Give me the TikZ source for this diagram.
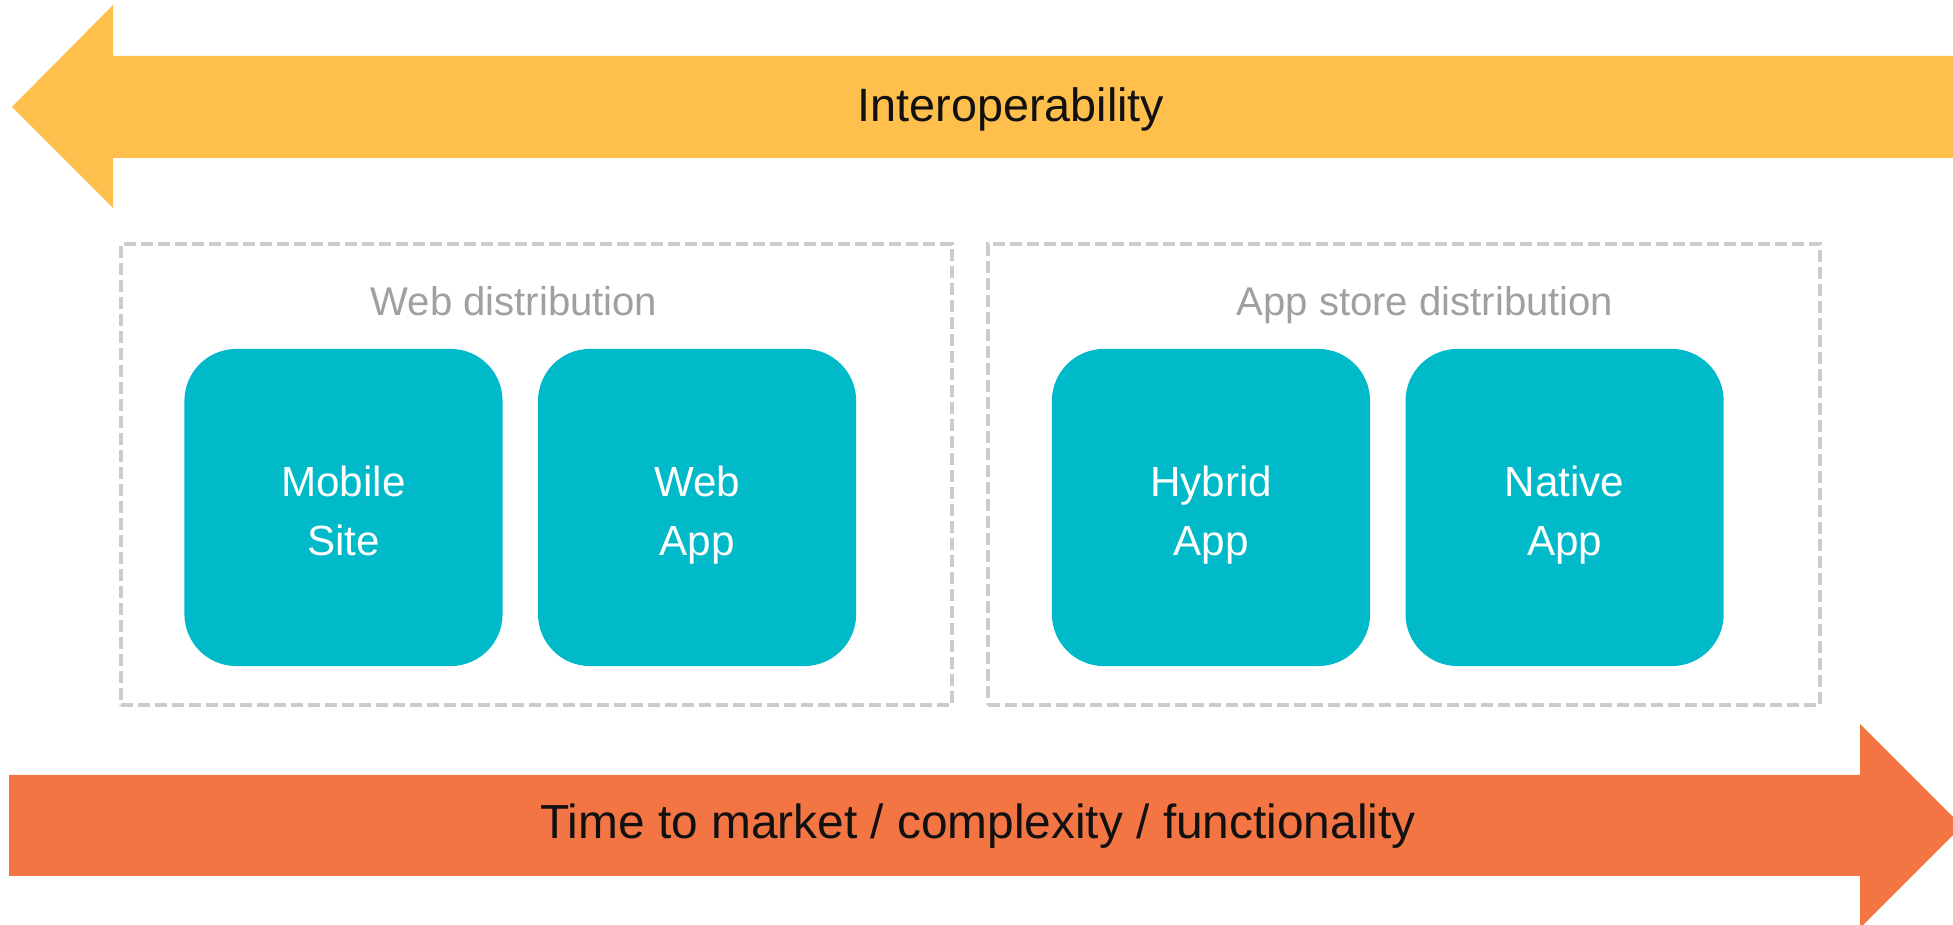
\documentclass[tikz,border=0pt]{standalone}
\usepackage{fontspec}
\setmainfont{Liberation Sans}
\usetikzlibrary{positioning}
\definecolor{clrinterop}{HTML}{FEBF4D}
\definecolor{clrmarket}{HTML}{F47544}
\definecolor{clrapp}{HTML}{00B9C9}
\definecolor{clrgroup_frame}{HTML}{CCCCCC}
\definecolor{clrgroup_text}{HTML}{A0A0A0}
\definecolor{clrtext}{HTML}{111111}

\begin{document}
\begin{tikzpicture}[
    x=0.01cm, y=-0.01cm,
    appbox/.style={fill=clrapp, rounded corners=0.52cm, minimum width=3.18cm,
                   minimum height=3.17cm, inner sep=0, text=white, align=center,
                   text height=30pt, text depth=2.5pt,
                   font=\fontsize{12}{16.8}\selectfont},
    group/.style={draw=clrgroup_frame, dash pattern=on 0.12cm off 0.05cm,
                  line width=1.25pt, minimum width=8.31cm, minimum height=4.61cm, inner sep=0},
    grouplabel/.style={anchor=base, text=clrgroup_text, font=\fontsize{11.4}{13}\selectfont},
    banner/.style={anchor=base, text=clrtext, font=\fontsize{13.3}{16}\selectfont},
]
\clip (0,0) rectangle (1953,925);
% arrows
\fill[clrinterop] (12,107) -- (113,5) -- (113,56) -- (1960,56) -- (1960,158) -- (113,158) -- (113,208) -- cycle;
\fill[clrmarket] (9,775) -- (1860,775) -- (1860,724) -- (1962,826) -- (1860,928) -- (1860,876) -- (9,876) -- cycle;
\node[banner] (interop) at (1011,122) {Interoperability};
\node[banner, font=\fontsize{13.6}{16}\selectfont] (market) at (978,839) {Time to market / complexity / functionality};
% groups
\node[group] (g_0) at (536.5,474.5) {};
\node[group, minimum width=8.32cm] (g_1) at (1404,474.5) {};
\node[grouplabel] (g_0_label) at (514,316) {Web distribution};
\node[grouplabel] (g_1_label) at (1425,316) {App store distribution};
% apps
\node[appbox] (n_1) at (343.5,507.5) {Mobile\\Site};
\node[appbox, right=0.34cm of n_1] (n_2) {Web\\App};
\node[appbox] (n_3) at (1211,507.5) {Hybrid\\App};
\node[appbox, right=0.34cm of n_3] (n_4) {Native\\App};
\end{tikzpicture}
\end{document}
